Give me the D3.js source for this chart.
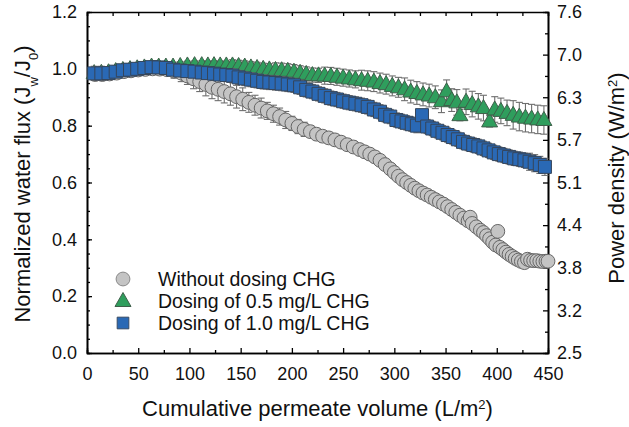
<!DOCTYPE html>
<html>
<head>
<meta charset="utf-8">
<script src="https://cdn.jsdelivr.net/npm/d3@7"></script>
<style>
  body { margin: 0; background: #fff; }
  svg text { font-family: "Liberation Sans", Arial, sans-serif; fill: #111; }
</style>
</head>
<body>
<div id="chart"></div>
<script>
// Data
const grayX = [8, 15, 22, 29, 36, 43, 50, 57, 64, 71, 78, 85, 92, 98, 104, 110, 116, 122, 128, 134, 140, 146, 152, 158, 164, 170, 176, 182, 188, 194, 200, 206, 212, 218, 224, 230, 236, 242, 248, 254, 260, 266, 271, 276, 281, 286, 291, 296, 300, 304, 308, 312, 316, 320, 324, 328, 332, 336, 340, 344, 348, 352, 356, 360, 364, 368, 372, 374, 376, 380, 384, 387, 390, 393, 396, 399, 401, 403, 406, 409, 412, 415, 418, 421, 424, 427, 430, 433, 436, 439, 442, 445, 448, 450];
const grayY = [0.98, 0.98, 0.982, 0.985, 0.99, 0.993, 0.996, 0.998, 1.0, 0.999, 0.997, 0.992, 0.985, 0.975, 0.965, 0.955, 0.945, 0.935, 0.928, 0.92, 0.912, 0.902, 0.893, 0.882, 0.872, 0.862, 0.852, 0.842, 0.832, 0.82, 0.808, 0.797, 0.787, 0.779, 0.77, 0.763, 0.757, 0.75, 0.742, 0.733, 0.725, 0.716, 0.708, 0.7, 0.69, 0.678, 0.663, 0.648, 0.635, 0.622, 0.61, 0.6, 0.59, 0.58, 0.571, 0.563, 0.556, 0.548, 0.54, 0.532, 0.524, 0.515, 0.505, 0.495, 0.485, 0.475, 0.465, 0.478, 0.456, 0.444, 0.432, 0.424, 0.413, 0.402, 0.39, 0.38, 0.428, 0.372, 0.364, 0.355, 0.347, 0.34, 0.333, 0.327, 0.322, 0.318, 0.33, 0.326, 0.325, 0.325, 0.323, 0.322, 0.323, 0.323];
const grayErr = [0.02, 0.02, 0.02, 0.02, 0.02, 0.02, 0.02, 0.02, 0.02, 0.02, 0.02, 0.025, 0.03, 0.03, 0.035, 0.035, 0.04, 0.04, 0.04, 0.04, 0.04, 0.04, 0.04, 0.035, 0.035, 0.035, 0.03, 0.03, 0.03, 0.03, 0.025, 0.025, 0.025, 0.02, 0.02, 0.02, 0.02, 0.02, 0.02, 0.02, 0.02, 0.02, 0.02, 0.02, 0.02, 0.02, 0.02, 0.02, 0.02, 0.02, 0.02, 0.02, 0.02, 0.02, 0.02, 0.02, 0.02, 0.02, 0.02, 0.02, 0.02, 0.02, 0.02, 0.02, 0.02, 0.02, 0.02, 0.015, 0.015, 0.015, 0.015, 0.015, 0.015, 0.015, 0.015, 0.015, 0.01, 0.01, 0.01, 0.01, 0.01, 0.01, 0.01, 0.01, 0.01, 0.01, 0.01, 0.01, 0.01, 0.01, 0.01, 0.01, 0.01, 0.01];

const greenX = [7, 14, 21, 28, 35, 42, 49, 56, 63, 70, 77, 84, 91, 98, 105, 112, 118, 124, 130, 136, 142, 148, 154, 160, 166, 172, 178, 184, 190, 196, 202, 208, 214, 220, 226, 232, 238, 244, 250, 256, 262, 268, 274, 280, 286, 292, 298, 304, 310, 316, 322, 328, 334, 340, 346, 351, 356, 361, 364, 370, 376, 382, 387, 393, 398, 404, 410, 416, 422, 428, 434, 440, 446];
const greenY = [0.985, 0.986, 0.988, 0.992, 0.996, 0.999, 1.002, 1.005, 1.008, 1.008, 1.008, 1.008, 1.01, 1.012, 1.013, 1.013, 1.012, 1.013, 1.012, 1.012, 1.012, 1.01, 1.008, 1.005, 1.003, 1.0, 0.998, 0.996, 0.995, 0.993, 0.99, 0.986, 0.982, 0.978, 0.977, 0.976, 0.975, 0.972, 0.969, 0.966, 0.963, 0.96, 0.958, 0.955, 0.95, 0.946, 0.94, 0.935, 0.928, 0.92, 0.915, 0.91, 0.906, 0.9, 0.886, 0.921, 0.89, 0.882, 0.837, 0.884, 0.876, 0.868, 0.862, 0.815, 0.857, 0.852, 0.845, 0.838, 0.832, 0.828, 0.825, 0.822, 0.82];
const greenErr = [0.015, 0.015, 0.015, 0.015, 0.015, 0.015, 0.015, 0.015, 0.015, 0.015, 0.015, 0.015, 0.015, 0.015, 0.015, 0.015, 0.015, 0.015, 0.015, 0.015, 0.02, 0.02, 0.02, 0.02, 0.02, 0.02, 0.02, 0.025, 0.025, 0.025, 0.025, 0.025, 0.025, 0.025, 0.025, 0.03, 0.03, 0.03, 0.03, 0.03, 0.03, 0.035, 0.035, 0.035, 0.035, 0.035, 0.035, 0.035, 0.04, 0.04, 0.04, 0.04, 0.04, 0.04, 0.04, 0.04, 0.04, 0.045, 0.02, 0.045, 0.045, 0.045, 0.045, 0.02, 0.045, 0.045, 0.045, 0.05, 0.05, 0.05, 0.05, 0.05, 0.05];

const blueX = [7, 14, 21, 28, 35, 42, 49, 56, 63, 70, 77, 84, 91, 98, 105, 112, 118, 124, 130, 136, 142, 148, 154, 160, 166, 172, 178, 184, 190, 196, 202, 208, 214, 220, 226, 232, 238, 244, 250, 256, 262, 268, 274, 280, 286, 291, 296, 302, 307, 312, 317, 322, 327, 332, 337, 342, 347, 352, 357, 362, 367, 372, 377, 382, 387, 392, 397, 402, 407, 412, 417, 422, 427, 432, 437, 442, 447];
const blueY = [0.984, 0.984, 0.985, 0.99, 0.995, 0.997, 1.0, 1.003, 1.006, 1.005, 1.003, 0.997, 0.994, 0.992, 0.99, 0.987, 0.985, 0.983, 0.98, 0.978, 0.976, 0.97, 0.966, 0.962, 0.958, 0.954, 0.952, 0.95, 0.948, 0.945, 0.942, 0.935, 0.926, 0.92, 0.912, 0.905, 0.897, 0.892, 0.886, 0.881, 0.877, 0.872, 0.866, 0.857, 0.849, 0.838, 0.832, 0.82, 0.815, 0.81, 0.805, 0.8, 0.837, 0.797, 0.79, 0.782, 0.775, 0.767, 0.76, 0.752, 0.743, 0.737, 0.732, 0.727, 0.72, 0.713, 0.706, 0.7, 0.695, 0.69, 0.685, 0.682, 0.678, 0.673, 0.668, 0.662, 0.655];
const blueErr = [0.025, 0.025, 0.02, 0.02, 0.02, 0.02, 0.02, 0.02, 0.02, 0.02, 0.02, 0.02, 0.02, 0.02, 0.02, 0.02, 0.02, 0.02, 0.02, 0.02, 0.025, 0.025, 0.025, 0.025, 0.025, 0.025, 0.025, 0.025, 0.025, 0.025, 0.025, 0.025, 0.025, 0.025, 0.025, 0.025, 0.025, 0.025, 0.025, 0.025, 0.025, 0.025, 0.025, 0.025, 0.025, 0.025, 0.025, 0.025, 0.025, 0.025, 0.025, 0.025, 0.02, 0.025, 0.025, 0.025, 0.025, 0.025, 0.025, 0.025, 0.025, 0.025, 0.025, 0.025, 0.025, 0.025, 0.025, 0.025, 0.025, 0.025, 0.025, 0.025, 0.025, 0.03, 0.03, 0.03, 0.03];

const xTicks = [0, 50, 100, 150, 200, 250, 300, 350, 400, 450];
const yTicks = [0.0, 0.2, 0.4, 0.6, 0.8, 1.0, 1.2];
const powerLabels = ["2.5", "3.2", "3.8", "4.4", "5.1", "5.7", "6.3", "7.0", "7.6"];
const seriesNames = ["Without dosing CHG", "Dosing of 0.5 mg/L CHG", "Dosing of 1.0 mg/L CHG"];

const width = 629, height = 427;
const margin = {top: 12, right: 81, bottom: 74, left: 87};
const plotW = width - margin.left - margin.right;
const plotH = height - margin.top - margin.bottom;

const svg = d3.select("#chart").append("svg")
    .attr("width", width)
    .attr("height", height);

const g = svg.append("g")
    .attr("transform", `translate(${margin.left}, ${margin.top})`);

const x = d3.scaleLinear().domain([0, 450]).range([0, plotW]);
const y = d3.scaleLinear().domain([0, 1.2]).range([plotH, 0]);
// right axis shares the pixel range; labels are placed at evenly spaced ticks
const yRight = d3.scaleLinear().domain([0, 1.2]).range([plotH, 0]);

function styleAxis(sel) {
    sel.selectAll("path").attr("stroke", "#000").attr("stroke-width", 1.6);
    sel.selectAll("line").attr("stroke", "#000").attr("stroke-width", 1.3);
    sel.selectAll("text").style("font-size", "18px").attr("fill", "#111");
}

// minor ticks
g.append("g").attr("transform", `translate(0, ${plotH})`)
    .call(d3.axisBottom(x).tickValues(d3.range(25, 450, 50)).tickSize(-3).tickFormat(""))
    .call(styleAxis);
g.append("g")
    .call(d3.axisTop(x).tickValues(d3.range(25, 450, 25)).tickSize(-4).tickFormat(""))
    .call(styleAxis);
g.append("g")
    .call(d3.axisLeft(y).tickValues(d3.range(0.05, 1.2, 0.05)).tickSize(-3).tickFormat(""))
    .call(styleAxis);
g.append("g").attr("transform", `translate(${plotW}, 0)`)
    .call(d3.axisRight(yRight).tickValues(d3.range(0.075, 1.2, 0.15)).tickSize(-3).tickFormat(""))
    .call(styleAxis);

// major ticks
g.append("g").attr("transform", `translate(0, ${plotH})`)
    .call(d3.axisBottom(x).tickValues(xTicks).tickSizeInner(-5).tickSizeOuter(0).tickPadding(14).tickFormat(d3.format("d")))
    .call(styleAxis);
g.append("g")
    .call(d3.axisLeft(y).tickValues(yTicks).tickSizeInner(-5).tickSizeOuter(0).tickPadding(10).tickFormat(d3.format(".1f")))
    .call(styleAxis);
const rightTickVals = d3.range(0, 9).map(i => i * 0.15);
g.append("g").attr("transform", `translate(${plotW}, 0)`)
    .call(d3.axisRight(yRight).tickValues(rightTickVals).tickSizeInner(-5).tickSizeOuter(0).tickPadding(9)
        .tickFormat((d, i) => powerLabels[i]))
    .call(styleAxis);

// error bars + markers
function drawSeries(xs, ys, errs, kind) {
    const data = xs.map((v, i) => ({x: v, y: ys[i], e: errs[i]}));
    const eb = g.append("g").attr("class", "errbars")
        .attr("stroke", "#6e6e6e").attr("stroke-width", 1.1);
    eb.selectAll("line.v").data(data).enter().append("line")
        .attr("x1", d => x(d.x)).attr("x2", d => x(d.x))
        .attr("y1", d => y(d.y - d.e)).attr("y2", d => y(d.y + d.e));
    eb.selectAll("line.lo").data(data).enter().append("line")
        .attr("x1", d => x(d.x) - 3.5).attr("x2", d => x(d.x) + 3.5)
        .attr("y1", d => y(d.y - d.e)).attr("y2", d => y(d.y - d.e));
    eb.selectAll("line.hi").data(data).enter().append("line")
        .attr("x1", d => x(d.x) - 3.5).attr("x2", d => x(d.x) + 3.5)
        .attr("y1", d => y(d.y + d.e)).attr("y2", d => y(d.y + d.e));

    const m = g.append("g");
    m.selectAll("path").data(data).enter().append("path")
        .attr("transform", d => `translate(${x(d.x)}, ${y(d.y)})`)
        .attr("d", markerPath(kind))
        .attr("fill", markerFill(kind))
        .attr("stroke", markerStroke(kind))
        .attr("stroke-width", 1);
}

function markerPath(kind) {
    if (kind === "circle") return d3.symbol().type(d3.symbolCircle).size(150)();
    if (kind === "triangle") return "M0,-8.5L8,5.5L-8,5.5Z";
    return "M-6.5,-6.5H6.5V6.5H-6.5Z";
}
function markerFill(kind) {
    return kind === "circle" ? "#c4c4c4" : kind === "triangle" ? "#2f9e5d" : "#2a69b5";
}
function markerStroke(kind) {
    return kind === "circle" ? "#666" : kind === "triangle" ? "#3f5f4a" : "#35455a";
}

drawSeries(grayX, grayY, grayErr, "circle");
drawSeries(greenX, greenY, greenErr, "triangle");
drawSeries(blueX, blueY, blueErr, "square");

// legend
const legend = svg.append("g").attr("transform", "translate(123, 279)");
const kinds = ["circle", "triangle", "square"];
seriesNames.forEach((name, i) => {
    const row = legend.append("g").attr("transform", `translate(0, ${i * 22})`);
    row.append("path")
        .attr("d", markerPath(kinds[i]))
        .attr("transform", kinds[i] === "square" ? "scale(0.9)" : null)
        .attr("fill", markerFill(kinds[i]))
        .attr("stroke", kinds[i] === "circle" ? "#8a8a8a" : markerStroke(kinds[i]))
        .attr("stroke-width", 1);
    row.append("text")
        .attr("x", 35).attr("y", 0).attr("dy", "0.35em")
        .style("font-size", "19.5px")
        .text(name);
});

// axis titles
const xTitle = svg.append("text")
    .attr("x", margin.left + plotW / 2).attr("y", 416)
    .attr("text-anchor", "middle")
    .style("font-size", "22px");
xTitle.append("tspan").text("Cumulative permeate volume (L/m");
xTitle.append("tspan").attr("baseline-shift", "super").style("font-size", "13px").text("2");
xTitle.append("tspan").text(")");

const leftTitle = svg.append("text")
    .attr("transform", `translate(30, 184) rotate(-90)`)
    .attr("text-anchor", "middle")
    .style("font-size", "22px");
leftTitle.append("tspan").text("Normalized water flux (J");
leftTitle.append("tspan").attr("baseline-shift", "sub").style("font-size", "13px").text("w");
leftTitle.append("tspan").text("/J");
leftTitle.append("tspan").attr("baseline-shift", "sub").style("font-size", "13px").text("0");
leftTitle.append("tspan").text(")");

const rightTitle = svg.append("text")
    .attr("transform", `translate(624, 178) rotate(-90)`)
    .attr("text-anchor", "middle")
    .style("font-size", "22px");
rightTitle.append("tspan").text("Power density (W/m");
rightTitle.append("tspan").attr("baseline-shift", "super").style("font-size", "13px").text("2");
rightTitle.append("tspan").text(")");
</script>
</body>
</html>
